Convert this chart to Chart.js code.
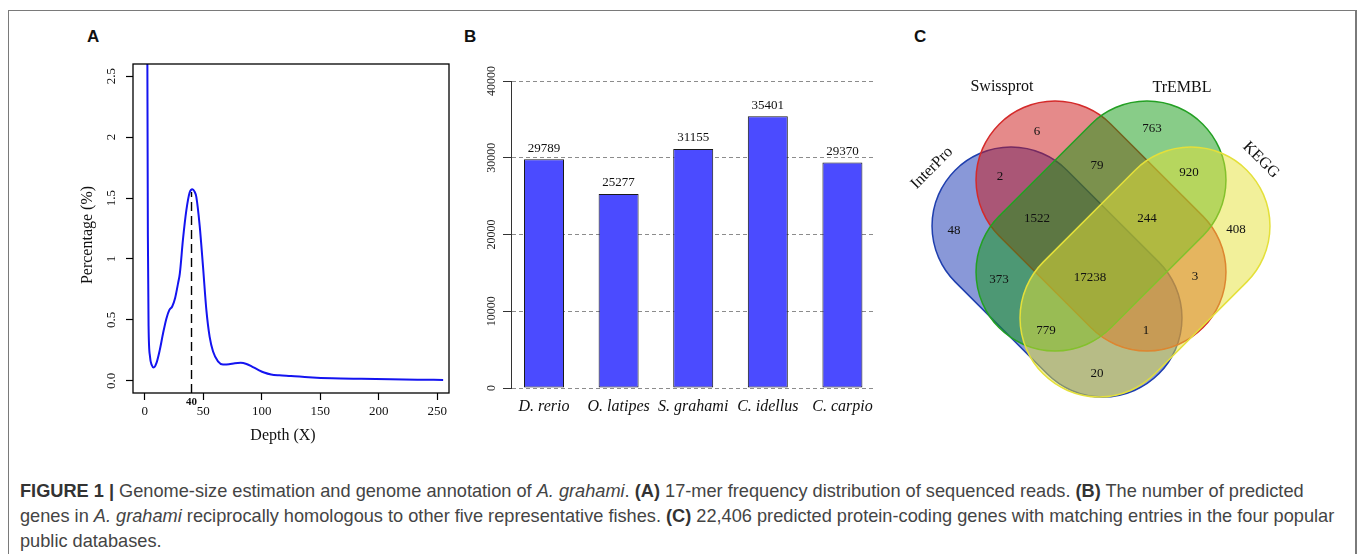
<!DOCTYPE html>
<html>
<head>
<meta charset="utf-8">
<title>Figure 1</title>
<script src="https://cdn.jsdelivr.net/npm/chart.js@4.4.1/dist/chart.umd.min.js"></script>
<style>
  html, body { margin: 0; padding: 0; background: #fff; }
  body { width: 1357px; height: 554px; position: relative; overflow: hidden; font-family: "Liberation Sans", Arial, sans-serif; }
  #frame { position: absolute; left: 8px; top: 10px; width: 1346px; height: 600px;
           border-top: 1px solid #7a7a7a; border-left: 1px solid #7a7a7a; border-right: 2px solid #7a7a7a; }
  canvas { position: absolute; }
  .letter { position: absolute; font-weight: bold; font-size: 17px; line-height: 17px; color: #111; }
  #caption { position: absolute; left: 20px; top: 479px; font-size: 18.2px; line-height: 25px; color: #444; white-space: nowrap; }
  #caption b { color: #333; }
</style>
</head>
<body>
<div id="frame"></div>
<div class="letter" style="left:87px; top:28px;">A</div>
<div class="letter" style="left:464px; top:28px;">B</div>
<div class="letter" style="left:914px; top:28px;">C</div>

<canvas id="chartA" width="460" height="460" style="left:0; top:0;"></canvas>
<canvas id="chartB" width="440" height="460" style="left:460px; top:0;"></canvas>
<canvas id="chartC" width="400" height="420" style="left:900px; top:40px;"></canvas>

<div id="caption"><b>FIGURE 1 |</b> Genome-size estimation and genome annotation of <i>A. grahami</i>. <b>(A)</b> 17-mer frequency distribution of sequenced reads. <b>(B)</b> The number of predicted<br>genes in <i>A. grahami</i> reciprocally homologous to other five representative fishes. <b>(C)</b> 22,406 predicted protein-coding genes with matching entries in the four popular<br>public databases.</div>

<script>
// ---- Panel A: 17-mer depth distribution ----
const depthX   = [2.2, 2.7, 3.3, 4.5, 6, 7.7, 10, 12.8, 15.7, 18.5, 21, 23.5, 26, 28.5, 30, 32.7, 35.6, 38.4, 40.7, 42.5, 44.1, 47, 49.8, 52.7, 55.5, 58.4, 62.6, 66.9, 72, 77, 82, 87, 92, 97, 102, 108, 115, 125, 140, 160, 185, 210, 235, 255];
const percentY = [2.9, 1.2, 0.45, 0.2, 0.13, 0.11, 0.145, 0.25, 0.39, 0.51, 0.58, 0.61, 0.68, 0.8, 0.88, 1.16, 1.4, 1.545, 1.573, 1.555, 1.51, 1.27, 0.94, 0.58, 0.36, 0.24, 0.16, 0.134, 0.136, 0.145, 0.148, 0.138, 0.115, 0.09, 0.068, 0.052, 0.045, 0.04, 0.03, 0.021, 0.016, 0.012, 0.009, 0.007];
const peakDepth = 40;
const peakLineY = [-0.1, 1.55];
const xTicksA = [0, 50, 100, 150, 200, 250];
const xTickLabelsA = ['0', '50', '100', '150', '200', '250'];
const yTicksA = [0, 0.5, 1, 1.5, 2, 2.5];
const yTickLabelsA = ['0.0', '0.5', '1', '1.5', '2', '2.5'];

// ---- Panel B: homologous genes per fish ----
const species = ['D. rerio', 'O. latipes', 'S. grahami', 'C. idellus', 'C. carpio'];
const geneCounts = [29789, 25277, 31155, 35401, 29370];
const yTicksB = [0, 10000, 20000, 30000, 40000];
const yTickLabelsB = ['0', '10000', '20000', '30000', '40000'];

// ---- Panel C: 4-set venn ----
const vennSets = ['InterPro', 'Swissprot', 'TrEMBL', 'KEGG'];
const regionCounts = [6, 763, 2, 79, 920, 48, 1522, 244, 408, 373, 17238, 3, 779, 1, 20];

// venn layout (diagram units, y up)
const regionPos = [[-6.4, 11.7], [5.1, 12.0], [-10.1, 7.2], [-0.4, 8.3], [8.8, 7.6], [-14.7, 1.8], [-6.4, 3.0], [4.6, 3.0],
                   [13.5, 1.9], [-10.2, -3.1], [-1.1, -2.9], [9.4, -2.8], [-5.5, -8.2], [4.5, -8.2], [-0.4, -12.5]];
const setShape = [
  { cx: -4.4, cy: -2.3, tilt: -45 },
  { cx: 0,    cy: 2.3,  tilt: -45 },
  { cx: 0,    cy: 2.3,  tilt: 45 },
  { cx: 4.4,  cy: -2.3, tilt: 45 }
];
const capHalfLen = 6.5, capRadius = 7.9;
const setFill   = ['rgba(19,49,177,0.5)', 'rgba(203,21,21,0.5)', 'rgba(17,153,17,0.5)', 'rgba(229,225,53,0.5)'];
const setStroke = ['#1f3fae', '#d42a2a', '#23a023', '#e4e03a'];
const setLabelPos = [[-16.9, 8.1, -45], [-9.9, 16.2, 0], [8.1, 16.1, 0], [16.0, 8.9, 45]];

const SERIF = '"Liberation Serif", "Times New Roman", serif';

function rotText(ctx, text, x, y, angle) {
  ctx.save();
  ctx.translate(x, y);
  ctx.rotate(angle);
  ctx.fillText(text, 0, 0);
  ctx.restore();
}

function ticksFrom(list) {
  return (scale) => { scale.ticks = list.map(v => ({ value: v })); };
}

// box, tick labels and titles for panel A
const panelAText = {
  id: 'panelAText',
  afterDraw(chart) {
    const { ctx, chartArea: ca, scales: { x, y } } = chart;
    ctx.save();
    ctx.strokeStyle = '#000';
    ctx.lineWidth = 1.3;
    ctx.strokeRect(ca.left, ca.top, ca.right - ca.left, ca.bottom - ca.top);
    ctx.fillStyle = '#111';
    ctx.textAlign = 'center';
    ctx.textBaseline = 'middle';
    ctx.font = '13px ' + SERIF;
    xTicksA.forEach((v, i) => ctx.fillText(xTickLabelsA[i], x.getPixelForValue(v), ca.bottom + 19));
    yTicksA.forEach((v, i) => rotText(ctx, yTickLabelsA[i], ca.left - 21, y.getPixelForValue(v), -Math.PI / 2));
    ctx.font = 'bold 11px ' + SERIF;
    ctx.fillText(String(peakDepth), x.getPixelForValue(peakDepth), ca.bottom + 9);
    ctx.font = '16px ' + SERIF;
    ctx.fillText('Depth (X)', ca.left + 150, ca.bottom + 43);
    rotText(ctx, 'Percentage (%)', ca.left - 45, ca.top + 171, -Math.PI / 2);
    ctx.restore();
  }
};

new Chart(document.getElementById('chartA'), {
  type: 'line',
  data: {
    datasets: [
      {
        data: depthX.map((d, i) => ({ x: d, y: percentY[i] })),
        borderColor: '#1414f0',
        borderWidth: 2,
        pointRadius: 0,
        cubicInterpolationMode: 'monotone',
        fill: false
      },
      {
        data: peakLineY.map(v => ({ x: peakDepth, y: v })),
        borderColor: '#000',
        borderWidth: 1.4,
        borderDash: [9, 5],
        pointRadius: 0
      }
    ]
  },
  options: {
    responsive: false,
    animation: false,
    events: [],
    layout: { padding: { left: 133, top: 64, right: 11, bottom: 67 } },
    plugins: { legend: { display: false }, tooltip: { enabled: false } },
    scales: {
      x: {
        type: 'linear', min: -10, max: 260,
        afterBuildTicks: ticksFrom(xTicksA),
        afterFit: s => { s.height = 0; },
        ticks: { display: false },
        grid: { drawOnChartArea: false, tickLength: 7, tickColor: '#000', tickWidth: 1.2 },
        border: { display: false }
      },
      y: {
        type: 'linear', min: -0.1, max: 2.6,
        afterBuildTicks: ticksFrom(yTicksA),
        afterFit: s => { s.width = 0; },
        ticks: { display: false },
        grid: { drawOnChartArea: false, tickLength: 7, tickColor: '#000', tickWidth: 1.2 },
        border: { display: false }
      }
    }
  },
  plugins: [panelAText]
});

// value labels, species names and rotated y labels for panel B
const panelBText = {
  id: 'panelBText',
  afterDraw(chart) {
    const { ctx, chartArea: ca, scales: { y } } = chart;
    const bars = chart.getDatasetMeta(0).data;
    ctx.save();
    ctx.fillStyle = '#111';
    ctx.textAlign = 'center';
    ctx.textBaseline = 'middle';
    ctx.font = '13px ' + SERIF;
    bars.forEach((bar, i) => ctx.fillText(String(geneCounts[i]), bar.x, bar.y - 11));
    ctx.font = 'italic 16px ' + SERIF;
    bars.forEach((bar, i) => ctx.fillText(species[i], bar.x, ca.bottom + 19));
    ctx.font = '12px ' + SERIF;
    ctx.fillStyle = '#222';
    yTicksB.forEach((v, i) => rotText(ctx, yTickLabelsB[i], ca.left - 19, y.getPixelForValue(v), -Math.PI / 2));
    ctx.restore();
  }
};

new Chart(document.getElementById('chartB'), {
  type: 'bar',
  data: {
    datasets: [{
      data: species.map((s, i) => ({ x: i, y: geneCounts[i] })),
      backgroundColor: '#4b4bff',
      borderColor: '#1a1a1a',
      borderWidth: 1,
      borderSkipped: false,
      barPercentage: 0.536,
      categoryPercentage: 1
    }]
  },
  options: {
    responsive: false,
    animation: false,
    events: [],
    layout: { padding: { left: 51, top: 81, right: 24, bottom: 72 } },
    plugins: { legend: { display: false }, tooltip: { enabled: false } },
    scales: {
      x: { type: 'linear', min: -0.4424, max: 4.45, offset: false, display: false },
      y: {
        type: 'linear', min: 0, max: 40000,
        afterBuildTicks: ticksFrom(yTicksB),
        afterFit: s => { s.width = 0; },
        ticks: { display: false },
        grid: { color: '#8c8c8c', lineWidth: 1, tickLength: 8, tickColor: '#333', tickBorderDash: [] },
        border: { display: true, color: '#333', width: 1, dash: [4, 3] }
      }
    }
  },
  plugins: [panelBText]
});

// stadium-shaped sets and labels for panel C
const vennPlugin = {
  id: 'vennPlugin',
  beforeDatasetsDraw(chart) {
    const { ctx, scales: { x, y } } = chart;
    const r = Math.abs(x.getPixelForValue(capRadius) - x.getPixelForValue(0));
    ctx.save();
    setShape.forEach((s, i) => {
      const a = s.tilt * Math.PI / 180;
      const dx = Math.cos(a) * capHalfLen, dy = Math.sin(a) * capHalfLen;
      const p1x = x.getPixelForValue(s.cx - dx), p1y = y.getPixelForValue(s.cy - dy);
      const p2x = x.getPixelForValue(s.cx + dx), p2y = y.getPixelForValue(s.cy + dy);
      const th = Math.atan2(p2y - p1y, p2x - p1x);
      ctx.beginPath();
      ctx.arc(p1x, p1y, r, th + Math.PI / 2, th + 3 * Math.PI / 2);
      ctx.arc(p2x, p2y, r, th - Math.PI / 2, th + Math.PI / 2);
      ctx.closePath();
      ctx.fillStyle = setFill[i];
      ctx.fill();
      ctx.lineWidth = 1.5;
      ctx.strokeStyle = setStroke[i];
      ctx.stroke();
    });
    ctx.restore();
  },
  afterDatasetsDraw(chart) {
    const { ctx, scales: { x, y } } = chart;
    const pts = chart.getDatasetMeta(0).data;
    ctx.save();
    ctx.fillStyle = '#111';
    ctx.textAlign = 'center';
    ctx.textBaseline = 'middle';
    ctx.font = '13px ' + SERIF;
    pts.forEach((p, i) => ctx.fillText(String(regionCounts[i]), p.x, p.y));
    ctx.font = '16px ' + SERIF;
    vennSets.forEach((name, i) => {
      const [lx, ly, rot] = setLabelPos[i];
      rotText(ctx, name, x.getPixelForValue(lx), y.getPixelForValue(ly), rot * Math.PI / 180);
    });
    ctx.restore();
  }
};

new Chart(document.getElementById('chartC'), {
  type: 'scatter',
  data: { datasets: [{ data: regionPos.map(([px, py]) => ({ x: px, y: py })), pointRadius: 0 }] },
  options: {
    responsive: false,
    animation: false,
    events: [],
    layout: { padding: 0 },
    plugins: { legend: { display: false }, tooltip: { enabled: false } },
    scales: {
      x: { type: 'linear', min: -20.1, max: 19.9, display: false },
      y: { type: 'linear', min: -21.1, max: 20.9, display: false }
    }
  },
  plugins: [vennPlugin]
});
</script>
</body>
</html>
